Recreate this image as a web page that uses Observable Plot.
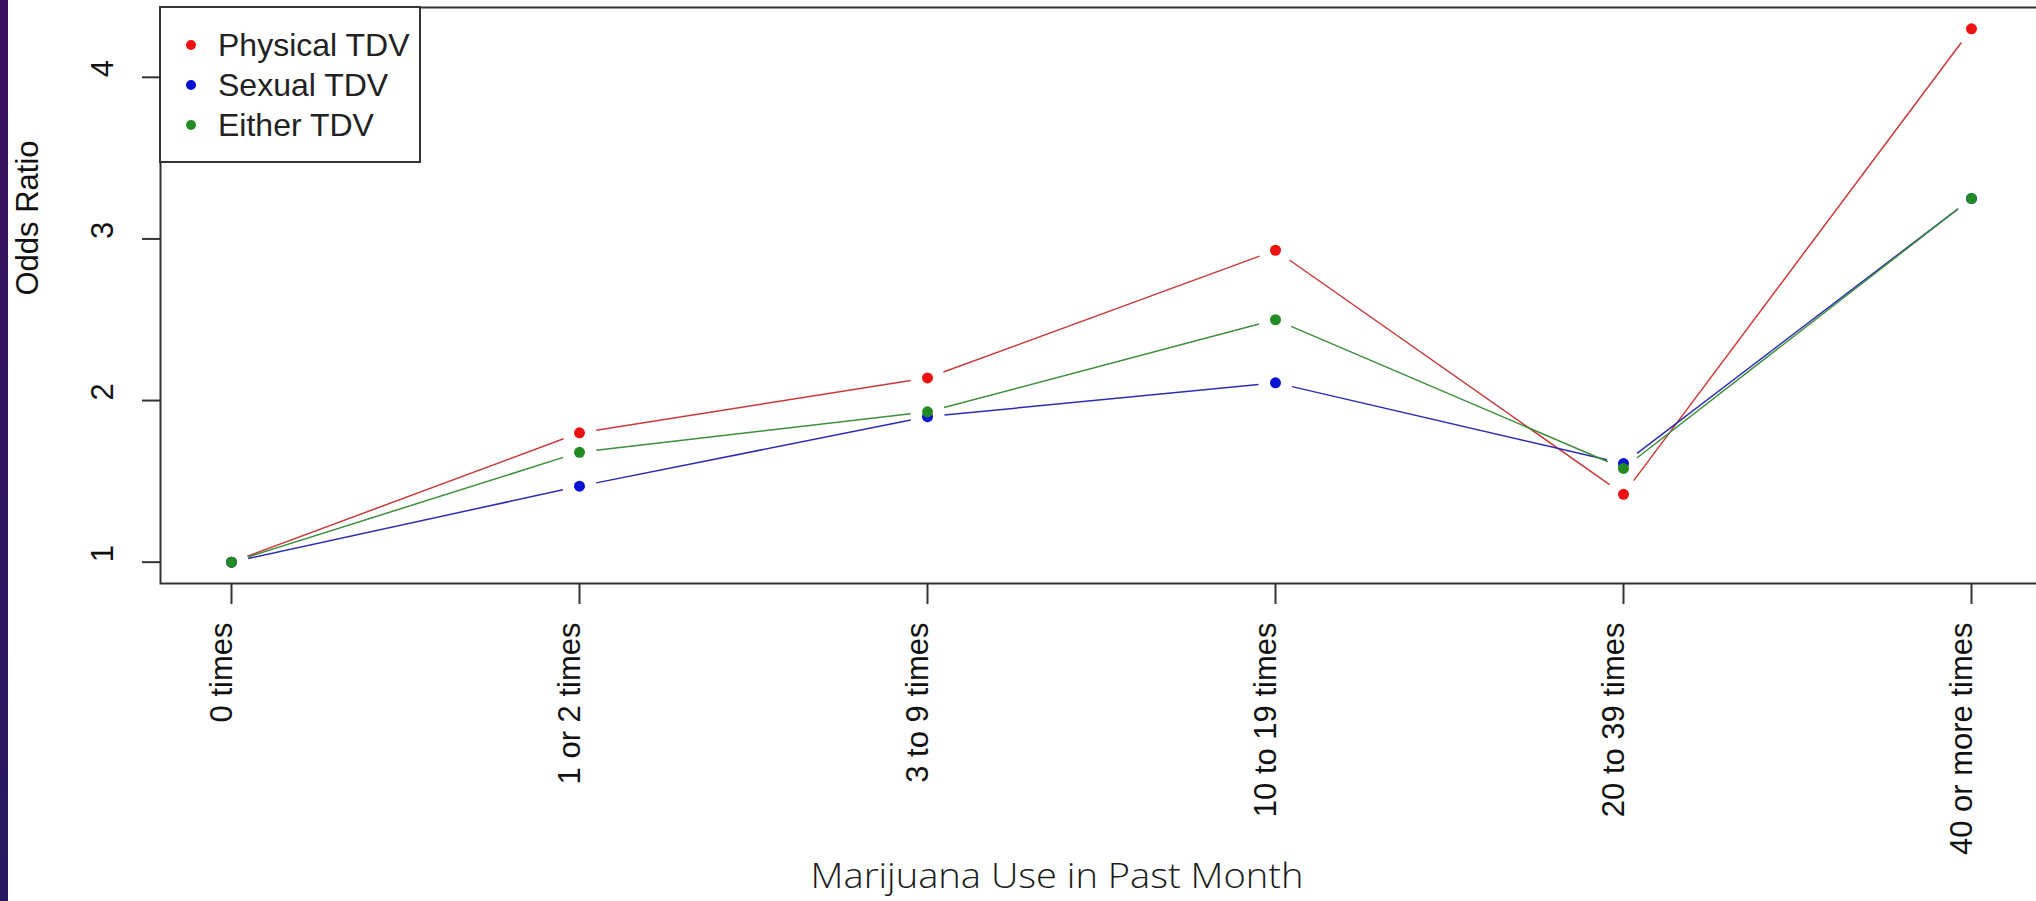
<!DOCTYPE html>
<html>
<head>
<meta charset="utf-8">
<script src="https://cdn.jsdelivr.net/npm/d3@7"></script>
<script src="https://cdn.jsdelivr.net/npm/@observablehq/plot@0.6"></script>
<style>
  html, body { margin: 0; padding: 0; background: #fff; overflow: hidden; }
  #wrap { position: relative; width: 2036px; height: 901px; overflow: hidden; background: #fff; }
  #bar { position: absolute; left: 0; top: 0; width: 8px; height: 901px;
         background: linear-gradient(#3b1160, #26195f); }
  #chart { position: absolute; left: 0; top: 0; }
  #legend { position: absolute; left: 159px; top: 6px; width: 258px; height: 153px;
            border: 2px solid #333; background: #fff;
            font-family: "Liberation Sans", Arial, sans-serif; font-size: 32px; color: #222; }
  .item { position: absolute; left: 0; height: 40px; line-height: 40px; white-space: nowrap; }
  .item .sw { position: absolute; left: 25px; top: 15px; width: 10px; height: 10px; border-radius: 50%; }
  .item .lb { position: absolute; left: 57px; top: 0; }
  #title { position: absolute; left: 0; width: 2114px; top: 858px; text-align: center; line-height: 34px;
           font-family: "Open Sans", "Lato", sans-serif; font-weight: 300; font-size: 34px; color: #1a1a1a; }
  #title span { display: inline-block; transform: scaleX(1.12); white-space: nowrap; }
</style>
</head>
<body>
<div id="wrap">
  <div id="chart"></div>
  <div id="bar"></div>
  <div id="legend"></div>
  <div id="title"><span></span></div>
</div>
<script>
const categories = ["0 times", "1 or 2 times", "3 to 9 times", "10 to 19 times", "20 to 39 times", "40 or more times"];
const seriesNames = ["Physical TDV", "Sexual TDV", "Either TDV"];
const physical = [1.00, 1.80, 2.14, 2.93, 1.42, 4.30];
const sexual   = [1.00, 1.47, 1.90, 2.11, 1.61, 3.25];
const either   = [1.00, 1.68, 1.93, 2.50, 1.58, 3.25];
const yTicks = [1, 2, 3, 4];
const pointColors = ["#ee1111", "#0512d6", "#238b23"];
const lineColors = ["#c83a3a", "#2d2db4", "#3d8f3d"];
const yLabel = "Odds Ratio";
const xLabel = "Marijuana Use in Past Month";

const seriesValues = [physical, sexual, either];
const points = [];
const segments = [];
seriesValues.forEach((vals, s) => {
  vals.forEach((v, i) => {
    points.push({series: seriesNames[s], cat: categories[i], value: v});
    if (i < vals.length - 1) {
      segments.push({series: seriesNames[s], x1: categories[i], y1: v, x2: categories[i + 1], y2: vals[i + 1]});
    }
  });
});

const font = '"Liberation Sans", Arial, sans-serif';
const chart = Plot.plot({
  width: 2036,
  height: 901,
  marginLeft: 160,
  marginRight: -5,
  marginTop: 7,
  marginBottom: 318,
  style: {fontFamily: font, background: "transparent", color: "#111"},
  x: {type: "point", domain: categories, padding: 0.2, label: null},
  y: {domain: [0.868, 4.432], label: null},
  color: {domain: seriesNames, range: pointColors},
  marks: [
    Plot.axisY({ticks: yTicks, tickSize: 18, tickFormat: () => "", stroke: "#333", strokeWidth: 2, label: null}),
    Plot.axisX({ticks: categories, tickSize: 21, tickFormat: () => "", stroke: "#333", strokeWidth: 2, label: null}),
    Plot.text(yTicks, {y: d => d, text: d => String(d), frameAnchor: "left", dx: -57, rotate: -90, fontSize: 31, fill: "#111"}),
    Plot.text(categories, {x: d => d, text: d => d, frameAnchor: "bottom", dy: 39, rotate: -90, textAnchor: "end", fontSize: 31, fill: "#111"}),
    Plot.text([yLabel], {text: d => d, frameAnchor: "left", dx: -132, rotate: -90, fontSize: 31, fill: "#111"}),
    Plot.arrow(segments, {
      x1: "x1", y1: "y1", x2: "x2", y2: "y2",
      stroke: d => lineColors[seriesNames.indexOf(d.series)],
      strokeWidth: 1.5, headLength: 0, insetStart: 17, insetEnd: 17, strokeLinecap: "butt"
    }),
    Plot.dot(points, {x: "cat", y: "value", r: 5.5, fill: "series", stroke: null}),
    Plot.frame({stroke: "#333", strokeWidth: 2})
  ]
});
document.getElementById("chart").appendChild(chart);

const legend = document.getElementById("legend");
seriesNames.forEach((name, i) => {
  const item = document.createElement("div");
  item.className = "item";
  item.style.top = (17 + i * 40) + "px";
  item.style.width = "100%";
  const sw = document.createElement("span");
  sw.className = "sw";
  sw.style.background = pointColors[i];
  const lb = document.createElement("span");
  lb.className = "lb";
  lb.textContent = name;
  item.appendChild(sw);
  item.appendChild(lb);
  legend.appendChild(item);
});
document.querySelector("#title span").textContent = xLabel;
</script>
</body>
</html>
